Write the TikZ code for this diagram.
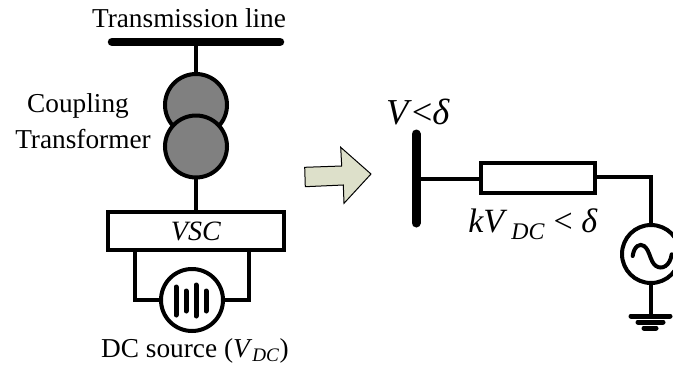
\documentclass[tikz,border=0pt]{standalone}
\usepackage{fontspec}
\setmainfont{Liberation Serif}
\definecolor{arrowfill}{HTML}{DDE0CA}
\definecolor{coregray}{HTML}{808080}
\tikzset{
  x=1pt,y=-1pt,
  wire/.style={draw=black,line width=4pt},
  tick/.style={draw=black,line width=5pt,line cap=round},
  busbar/.style={draw=black,line width=8.5pt,line cap=round},
  coil/.style={circle,draw=black,line width=4pt,fill=coregray,minimum size=62pt,inner sep=0pt,outer sep=0pt},
  source/.style={circle,draw=black,line width=4pt,fill=white,minimum size=62pt,inner sep=0pt,outer sep=0pt},
  block/.style={rectangle,draw=black,line width=4pt,fill=white,inner sep=0pt,outer sep=0pt},
  lbl/.style={inner sep=0pt,outer sep=0pt,font=\fontsize{27.3}{30}\selectfont,align=center,text=black},
  biglbl/.style={inner sep=0pt,outer sep=0pt,align=center,text=black},
}
\begin{document}
\begin{tikzpicture}
\useasboundingbox (0,0) rectangle (673,368);
% left column
\coordinate (busL) at (112,42);
\coordinate (busR) at (280,42);
\coordinate (busM) at (196,42);
\draw[busbar] (busL) -- (busR);
\node[lbl] (tl) at (189,18) {Transmission line};
\node[coil] (t1) at (196,105) {};
\node[coil] (t2) at (196,146.5) {};
\draw[wire] (busM) -- (t1.north);
\node[lbl] (cpl) at (78,105.5) {Coupling};
\node[lbl] (trf) at (83,139) {Transformer};
\node[block,minimum width=176pt,minimum height=38.5pt,font=\fontsize{28}{30}\selectfont] (vsc) at (196,231) {\textit{VSC}};
\draw[wire] (t2.south) -- (vsc.north);
\node[source] (dc) at (192,300) {};
\coordinate (vl) at (135,251);
\coordinate (vr) at (249,251);
\draw[wire] (vl) |- (dc.west);
\draw[wire] (vr) |- (dc.east);
\coordinate (b1t) at (176,287); \coordinate (b1b) at (176,315);
\coordinate (b2t) at (186,291); \coordinate (b2b) at (186,311);
\coordinate (b3t) at (196,285); \coordinate (b3b) at (196,316);
\coordinate (b4t) at (206,291); \coordinate (b4b) at (206,311);
\draw[tick] (b1t)--(b1b) (b2t)--(b2b) (b3t)--(b3b) (b4t)--(b4b);
\node[lbl] (dcl) at (195,351) {DC source (\textit{V}\textsubscript{\textit{DC}})};
% arrow
\filldraw[draw=black,line width=1pt,fill=arrowfill,line join=miter]
 (304.7,167.3)--(341.7,166)--(340.7,147.3)--(371,174)--(344,203.3)--(343.3,185)--(305.3,186.7)--cycle;
% right side
\coordinate (b2a) at (416,134);
\coordinate (b2b2) at (416,223);
\draw[busbar,line width=9pt] (b2a) -- (b2b2);
\node[biglbl,font=\fontsize{36.5}{40}\selectfont] (vd) at (418,112) {\textit{V}<\textit{δ}};
\node[block,minimum width=114pt,minimum height=30pt] (z) at (538,178) {};
\coordinate (bj) at (416,179);
\draw[wire] (bj) -- (z.west |- bj);
\node[biglbl,font=\fontsize{34}{38}\selectfont] (kv) at (533,224) {\textit{kV}\textsubscript{\,\textit{DC}} < \textit{δ}};
\node[source,minimum size=58pt] (g) at (651,254) {};
\coordinate (zr) at (595,177);
\draw[wire] (zr) -| (g.north);
\draw[line width=4pt,line cap=round] (632.7,256) .. controls (634,246) and (640,243) .. (644,246) .. controls (650,250) and (650,262) .. (656,266) .. controls (662,270) and (670,266) .. (671.7,254.3);
\coordinate (gnd) at (651,316);
\draw[wire] (g.south) -- (gnd);
\coordinate (g1l) at (631,316); \coordinate (g1r) at (670,316);
\coordinate (g2l) at (638,322); \coordinate (g2r) at (663,322);
\coordinate (g3l) at (644,328); \coordinate (g3r) at (656,328);
\draw[tick] (g1l)--(g1r) (g2l)--(g2r) (g3l)--(g3r);
\end{tikzpicture}
\end{document}
